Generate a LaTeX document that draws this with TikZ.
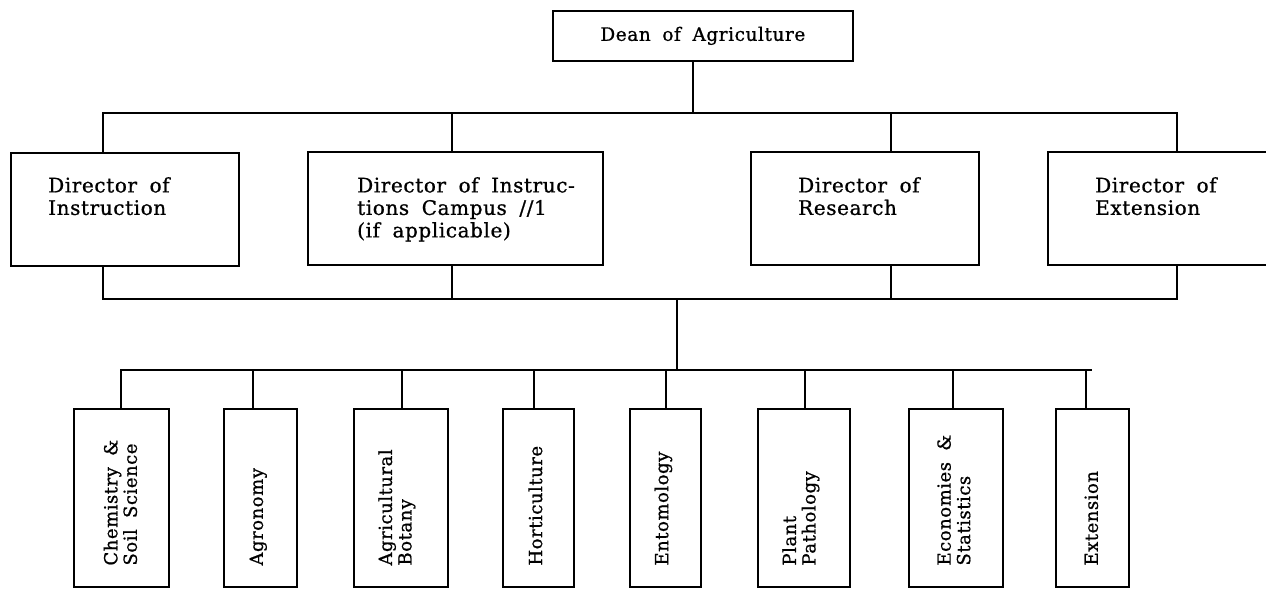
\documentclass[tikz,border=0pt]{standalone}
\usepackage{fontspec}
\setmainfont{DejaVu Serif}[LetterSpace=3,WordSpace=1.8,FakeBold=0.9]
\begin{document}
\begin{tikzpicture}[x=1pt,y=-1pt,
  box/.style={draw, line width=1.7pt, inner sep=0pt, anchor=north west},
  dirtext/.style={font=\fontsize{20}{22.5}\selectfont, align=left, inner sep=0pt, anchor=north west},
  depttext/.style={font=\fontsize{18}{19.5}\selectfont, align=left, inner sep=0pt, rotate=90, anchor=west},
  link/.style={line width=1.7pt}]
\useasboundingbox (0,0) rectangle (1266,591);

% Dean
\node[box, minimum width=300pt, minimum height=50pt, font=\fontsize{18.5}{22}\selectfont] (dean) at (552,10) {Dean of Agriculture};

% Directors
\node[box, minimum width=228pt, minimum height=113pt] (instr) at (10,152) {};
\node[dirtext] (instrt) at (48,177) {Director of\\Instruction};
\node[box, minimum width=295pt, minimum height=113pt] (campus) at (307,151) {};
\node[dirtext] (campust) at (357,177) {Director of Instruc-\\tions Campus //1\\(if applicable)};
\node[box, minimum width=228pt, minimum height=113pt] (research) at (750,151) {};
\node[dirtext] (researcht) at (798,177) {Director of\\Research};
\node[box, minimum width=221pt, minimum height=113pt] (extd) at (1047,151) {};
\node[dirtext] (extdt) at (1095,177) {Director of\\Extension};

% Departments
\node[box, minimum width=95pt, minimum height=178pt] (d1) at (73,408) {};
\node[box, minimum width=73pt, minimum height=178pt] (d2) at (223,408) {};
\node[box, minimum width=94pt, minimum height=178pt] (d3) at (353,408) {};
\node[box, minimum width=71pt, minimum height=178pt] (d4) at (502,408) {};
\node[box, minimum width=71pt, minimum height=178pt] (d5) at (629,408) {};
\node[box, minimum width=92pt, minimum height=178pt] (d6) at (757,408) {};
\node[box, minimum width=94pt, minimum height=178pt] (d7) at (908,408) {};
\node[box, minimum width=73pt, minimum height=178pt] (d8) at (1055,408) {};

\node[depttext] (t1) at ([xshift=-1pt,yshift=22pt]d1.south) {Chemistry \&\\Soil Science};
\node[depttext] (t2) at ([xshift=-2pt,yshift=22pt]d2.south) {Agronomy};
\node[depttext] (t3) at ([xshift=-4pt,yshift=22pt]d3.south) {Agricultural\\Botany};
\node[depttext] (t4) at ([xshift=-3pt,yshift=22pt]d4.south) {Horticulture};
\node[depttext] (t5) at ([xshift=-2pt,yshift=22pt]d5.south) {Entomology};
\node[depttext] (t6) at ([xshift=-3pt,yshift=22pt]d6.south) {Plant\\Pathology};
\node[depttext] (t7) at ([xshift=-2pt,yshift=22pt]d7.south) {Economies \&\\Statistics};
\node[depttext] (t8) at ([xshift=-1pt,yshift=22pt]d8.south) {Extension};

% junction coordinates
\coordinate (a0) at (693,113);
\coordinate (a1) at (103,113);
\coordinate (a2) at (452,113);
\coordinate (a3) at (891,113);
\coordinate (a4) at (1177,113);
\coordinate (b0) at (677,299);
\coordinate (b1) at (103,299);
\coordinate (b2) at (452,299);
\coordinate (b3) at (891,299);
\coordinate (b4) at (1177,299);
\coordinate (c0) at (677,370);
\coordinate (cend) at (1092,370);

% connectors
\draw[link] (dean.south -| a0) -- (a0);
\draw[link] (instr.north -| a1) -- (a1) -- (a4) -- (extd.north -| a4);
\draw[link] (a2) -- (campus.north -| a2);
\draw[link] (a3) -- (research.north -| a3);
\draw[link] (instr.south -| b1) -- (b1) -- (b4) -- (extd.south -| b4);
\draw[link] (campus.south -| b2) -- (b2);
\draw[link] (research.south -| b3) -- (b3);
\draw[link] (b0) -- (c0);
\draw[link] (d1.north -| 121,0) |- (cend);
\foreach \n/\x in {d2/253, d3/402, d4/534, d5/666, d6/805, d7/953, d8/1086}
  \draw[link] (\n.north -| \x,0) -- (\x,370);
\end{tikzpicture}
\end{document}
